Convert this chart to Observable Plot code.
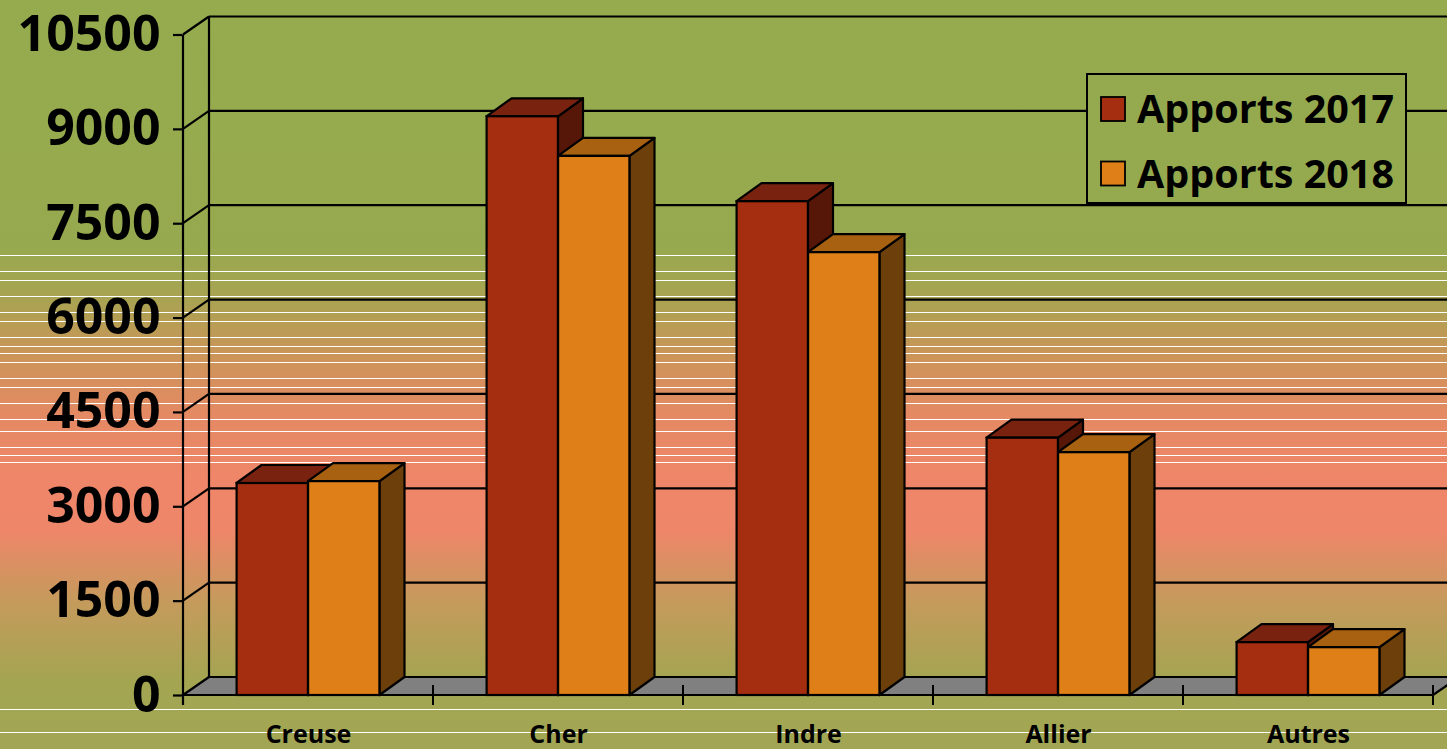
<!DOCTYPE html>
<html><head><meta charset="utf-8">
<script src="https://cdn.jsdelivr.net/npm/d3@7"></script>
<script src="https://cdn.jsdelivr.net/npm/@observablehq/plot@0.6"></script>
<style>
html,body{margin:0;padding:0;overflow:hidden;background:#95AB4E;}
#chart{position:relative;width:1447px;height:749px;overflow:hidden;
background:linear-gradient(to bottom,#95AB4E 0%,#97A94E 33%,#A9A352 40%,#CE9459 48%,#E38A63 55%,#EF8669 64%,#EE8669 71%,#C69A5C 80%,#A3A551 91%,#A2A654 100%);}
#chart svg{display:block;position:relative;z-index:1}
.band{position:absolute;left:0;width:100%;height:1.2px;background:#ffffff;z-index:0}
</style></head><body><div id="chart"></div>
<script>
const categories = ["Creuse", "Cher", "Indre", "Allier", "Autres"];
const seriesNames = ["Apports 2017", "Apports 2018"];
const apports2017 = [3370, 9200, 7850, 4090, 840];
const apports2018 = [3400, 8570, 7040, 3860, 760];
const yTicks = [0, 1500, 3000, 4500, 6000, 7500, 9000, 10500];

const front = ["#A52D10", "#DE7F18"];
const topC  = ["#7A2210", "#A86110"];
const sideC = ["#561709", "#6C3F0B"];
const FONT = "Open Sans";
const WALL = {dx: 26, dy: -18};
const BAR = {dx: 25, dy: -18};
const BAR_W = 71.5;
// background gradient banding (style only)
const bandStyleTops = [255, 271, 280, 296, 312, 321, 337, 346, 353, 362, 378, 387, 403, 419, 431, 447, 455, 462, 709, 732];

const rows = seriesNames.map((s, k) =>
  categories.map((c, i) => ({category: c, series: s, k, value: (k === 0 ? apports2017 : apports2018)[i]})));

function pts(a) { return a.map(p => p.join(",")).join(" "); }

function structure(index, scales) {
  const x = scales.x, y = scales.y;
  const bw = x.bandwidth();
  const x0 = x(categories[0]);
  const x1 = x(categories[categories.length - 1]) + bw;
  const y0 = y(0), yMax = y(yTicks[yTicks.length - 1]);
  const g = d3.create("svg:g");
  g.append("polygon").attr("points", pts([[x0, y0], [x0 + WALL.dx, y0 + WALL.dy], [x1 + WALL.dx, y0 + WALL.dy], [x1, y0]]))
    .attr("fill", "#808080").attr("stroke", "none");
  const line = (a, b, w) => { g.append("line").attr("x1", a[0]).attr("y1", a[1]).attr("x2", b[0]).attr("y2", b[1]).attr("stroke", "black").attr("stroke-width", w || 2.2); };
  for (const t of yTicks) {
    line([x0 + WALL.dx, y(t) + WALL.dy], [x1 + WALL.dx + 40, y(t) + WALL.dy]);
    line([x0, y(t)], [x0 + WALL.dx, y(t) + WALL.dy]);
  }
  line([x0 + WALL.dx, y0 + WALL.dy], [x0 + WALL.dx, yMax + WALL.dy]);
  line([x0, y0 + 10], [x0, yMax]);
  line([x0, y0], [x1, y0]);
  line([x1, y0], [x1 + WALL.dx, y0 + WALL.dy]);
  for (let i = 1; i <= categories.length; i++) {
    const xt = x0 + i * bw;
    line([xt, y0 - 10], [xt, y0 + 10], 2);
  }
  return g.node();
}

function faces(k) {
  return (index, scales) => {
    const x = scales.x, y = scales.y;
    const bw = x.bandwidth();
    const g = d3.create("svg:g").attr("stroke", "black").attr("stroke-width", 2.2).attr("stroke-linejoin", "round");
    for (const d of rows[k]) {
      const cx = x(d.category) + bw / 2;
      const l = k === 0 ? cx - BAR_W : cx;
      const r = l + BAR_W;
      const yt = y(d.value), yb = y(0);
      g.append("polygon").attr("fill", sideC[k])
        .attr("points", pts([[r, yt], [r + BAR.dx, yt + BAR.dy], [r + BAR.dx, yb + BAR.dy], [r, yb]]));
      g.append("polygon").attr("fill", topC[k])
        .attr("points", pts([[l, yt], [l + BAR.dx, yt + BAR.dy], [r + BAR.dx, yt + BAR.dy], [r, yt]]));
    }
    return g.node();
  };
}

function legend() {
  const g = d3.create("svg:g");
  g.append("rect").attr("x", 1087).attr("y", 74).attr("width", 319).attr("height", 129)
    .attr("fill", "#95AA4E").attr("stroke", "black").attr("stroke-width", 2);
  seriesNames.forEach((s, k) => {
    const yy = 97 + k * 64.5;
    g.append("rect").attr("x", 1101).attr("y", yy).attr("width", 24).attr("height", 24)
      .attr("fill", front[k]).attr("stroke", "black").attr("stroke-width", 1.8);
    g.append("text").attr("x", 1137).attr("y", yy + 26).attr("text-anchor", "start")
      .attr("font-family", FONT).attr("font-weight", 700)
      .attr("font-size", 39.5).attr("fill", "black").text(s);
  });
  return g.node();
}

const half = 250.2 / 2;
const chart = Plot.plot({
  width: 1447, height: 749,
  marginLeft: 182, marginRight: 14, marginTop: 34.5, marginBottom: 54,
  style: {background: "transparent", fontFamily: FONT, color: "black"},
  x: {domain: categories, padding: 0, label: null},
  y: {domain: [0, 10500], label: null},
  marks: [
    structure,
    faces(0),
    Plot.barY(rows[0], {x: "category", y: "value", fill: front[0], stroke: "black", strokeWidth: 2.2, insetLeft: half - BAR_W, insetRight: half}),
    faces(1),
    Plot.barY(rows[1], {x: "category", y: "value", fill: front[1], stroke: "black", strokeWidth: 2.2, insetLeft: half, insetRight: half - BAR_W}),
    Plot.axisY({ticks: yTicks, tickSize: 9, tickPadding: 13, fontSize: 50, fontWeight: 700, tickFormat: d => String(d), stroke: "black", strokeWidth: 2.2, fill: "black"}),
    Plot.axisX({tickSize: 0, tickPadding: 30, fontSize: 25, fontWeight: 700, fill: "black"}),
    legend
  ]
});
const host = document.getElementById("chart");
for (const t of bandStyleTops) {
  const d = document.createElement("div");
  d.className = "band";
  d.style.top = t + "px";
  host.appendChild(d);
}
host.appendChild(chart);
</script></body></html>
